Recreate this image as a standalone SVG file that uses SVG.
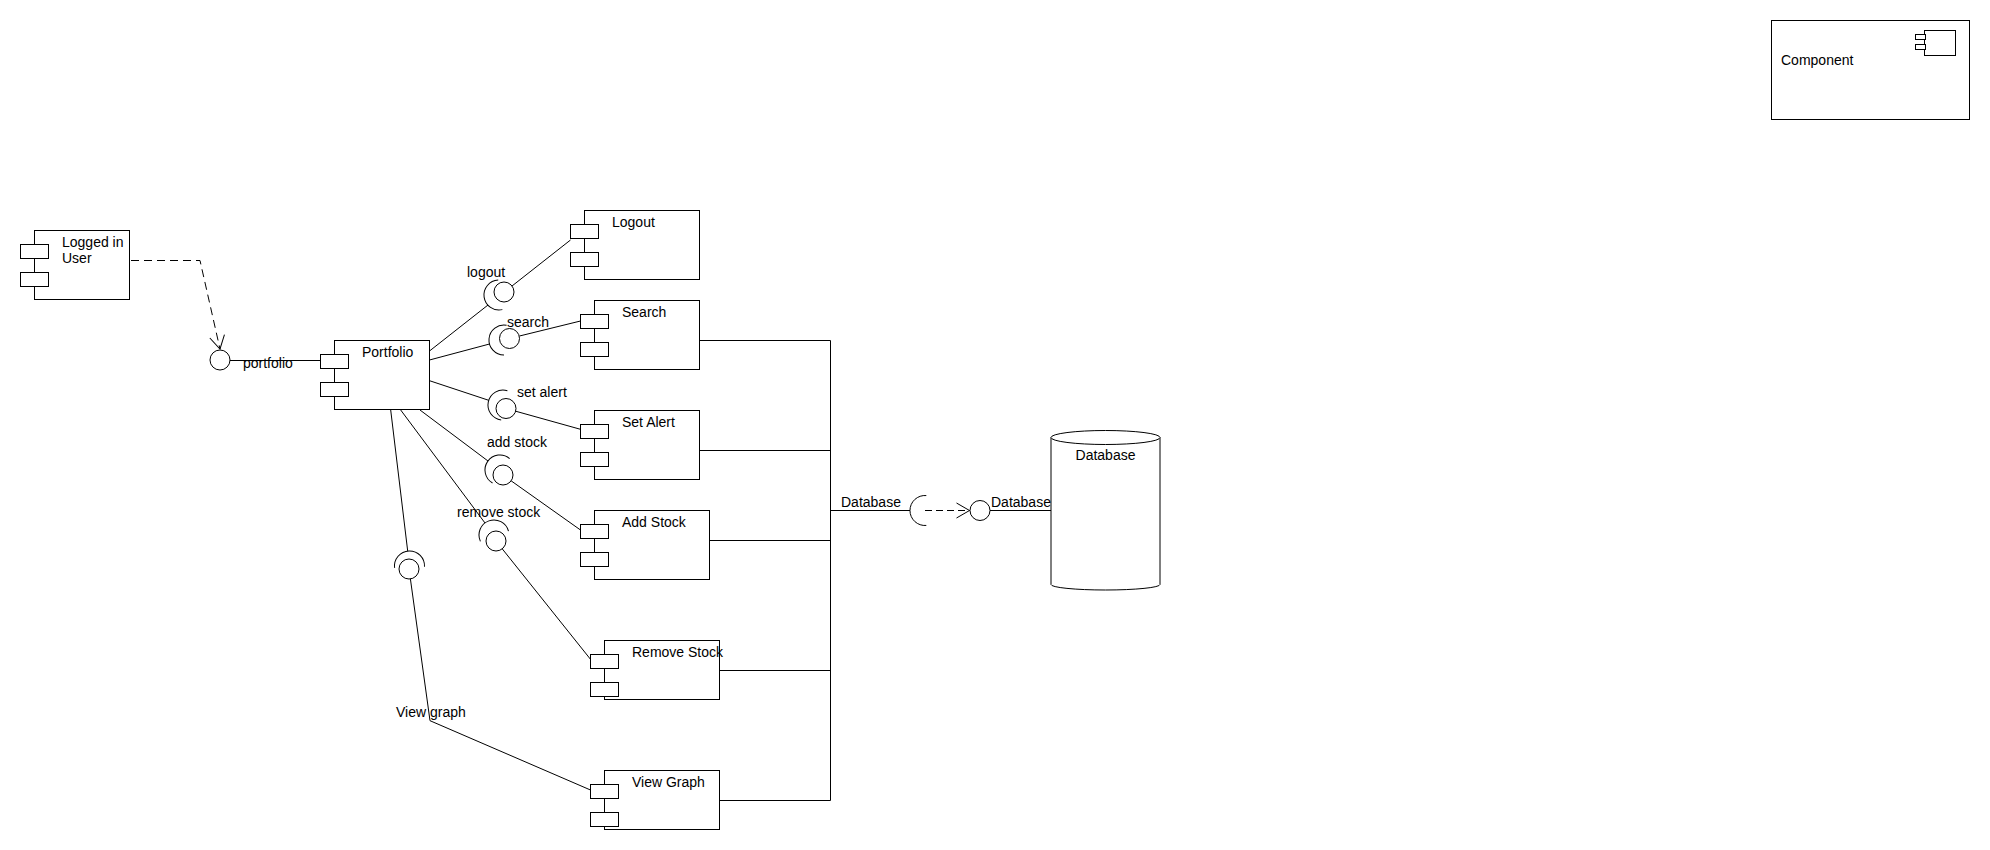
<svg xmlns="http://www.w3.org/2000/svg" xmlns:xlink="http://www.w3.org/1999/xlink" width="1990" height="850" viewBox="0 0 1990 850">
  <style>
    .box { fill: #ffffff; stroke: #000000; stroke-width: 1; }
    .port { fill: #ffffff; stroke: #000000; stroke-width: 1; }
    .wire { fill: none; stroke: #000000; stroke-width: 1; }
    .dash { fill: none; stroke: #000000; stroke-width: 1; stroke-dasharray: 8 5; }
    .ball { fill: #ffffff; stroke: #000000; stroke-width: 1; }
    .sock { fill: none; stroke: #000000; stroke-width: 1; }
    text { font-family: "Liberation Sans", Arial, sans-serif; font-size: 14px; fill: #000000; }
    .mid { text-anchor: middle; }
  </style>
  <defs>
    <marker id="open" markerUnits="userSpaceOnUse" markerWidth="16" markerHeight="18" refX="14" refY="8" orient="auto" overflow="visible">
      <path d="M1,0.5 L14,8 L1,15.5" fill="none" stroke="#000000" stroke-width="1" stroke-dasharray="none"/>
    </marker>
    <!-- required-interface socket, opening toward +x, centred on origin -->
    <path id="socket" class="sock" d="M1.31,-14.94 A15,15 0 1 0 1.31,14.94"/>
  </defs>
  <rect width="1990" height="850" fill="#ffffff"/>

  <!-- connectors -->
  <g id="connectors">
    <!-- user to portfolio interface -->
    <path class="dash" d="M131,260.5 L200,260.5 L220,349" marker-end="url(#open)"/>
    <line class="wire" x1="230" y1="360.5" x2="320.5" y2="360.5"/>

    <!-- portfolio to sockets -->
    <line class="wire" x1="429.5" y1="351" x2="488" y2="305"/>
    <line class="wire" x1="429.5" y1="360" x2="489.5" y2="344"/>
    <line class="wire" x1="429.5" y1="380.7" x2="488.7" y2="400.3"/>
    <line class="wire" x1="420" y1="410" x2="488" y2="461"/>
    <line class="wire" x1="400.7" y1="410" x2="485" y2="523"/>
    <line class="wire" x1="390.7" y1="410" x2="407.7" y2="551.1"/>

    <!-- provided interfaces to components -->
    <line class="wire" x1="512" y1="286" x2="570.5" y2="240"/>
    <line class="wire" x1="519.5" y1="336" x2="580.5" y2="321"/>
    <line class="wire" x1="515.6" y1="411.2" x2="580.5" y2="429.3"/>
    <line class="wire" x1="511.1" y1="480.8" x2="580.5" y2="530"/>
    <line class="wire" x1="502.2" y1="548.8" x2="590.5" y2="659.3"/>
    <path class="wire" d="M410.4,578.9 L430,720.7 L590.5,790"/>

    <!-- database bus -->
    <line class="wire" x1="699.5" y1="340.5" x2="830.5" y2="340.5"/>
    <line class="wire" x1="699.5" y1="450.5" x2="830.5" y2="450.5"/>
    <line class="wire" x1="709.5" y1="540.5" x2="830.5" y2="540.5"/>
    <line class="wire" x1="719.5" y1="670.5" x2="830.5" y2="670.5"/>
    <line class="wire" x1="719.5" y1="800.5" x2="830.5" y2="800.5"/>
    <line class="wire" x1="830.5" y1="340.5" x2="830.5" y2="800.5"/>
    <line class="wire" x1="830.5" y1="510.5" x2="910" y2="510.5"/>
    <line class="dash" style="stroke-dasharray: 7 4" x1="925" y1="510.5" x2="969.5" y2="510.5" marker-end="url(#open)"/>
    <line class="wire" x1="990" y1="510.5" x2="1051" y2="510.5"/>
  </g>

  <!-- interfaces (ball and socket) -->
  <g id="interfaces">
    <g id="if-portfolio"><circle class="ball" cx="220" cy="360" r="10"/></g>
    <g id="if-logout">
      <use xlink:href="#socket" href="#socket" transform="translate(499,295) rotate(-8)"/>
      <circle class="ball" cx="504" cy="292" r="10"/>
    </g>
    <g id="if-search">
      <use xlink:href="#socket" href="#socket" transform="translate(504,340) rotate(5)"/>
      <circle class="ball" cx="509.5" cy="338.5" r="10"/>
    </g>
    <g id="if-setalert">
      <use xlink:href="#socket" href="#socket" transform="translate(503,405) rotate(12)"/>
      <circle class="ball" cx="506" cy="408.5" r="10"/>
    </g>
    <g id="if-addstock">
      <use xlink:href="#socket" href="#socket" transform="translate(500,470) rotate(35)"/>
      <circle class="ball" cx="503" cy="475" r="10"/>
    </g>
    <g id="if-removestock">
      <use xlink:href="#socket" href="#socket" transform="translate(494,535) rotate(70)"/>
      <circle class="ball" cx="496" cy="541" r="10"/>
    </g>
    <g id="if-viewgraph">
      <use xlink:href="#socket" href="#socket" transform="translate(409.5,566) rotate(88)"/>
      <circle class="ball" cx="409" cy="569" r="10"/>
    </g>
    <g id="if-database">
      <use xlink:href="#socket" href="#socket" transform="translate(925,510.5)"/>
      <circle class="ball" cx="980" cy="510.5" r="10"/>
    </g>
  </g>

  <!-- labels on connectors -->
  <g id="connector-labels">
    <text x="243" y="368">portfolio</text>
    <text x="467" y="277">logout</text>
    <text x="507" y="327">search</text>
    <text x="517" y="397">set alert</text>
    <text x="487" y="447">add stock</text>
    <text x="457" y="517">remove stock</text>
    <text x="396" y="717">View graph</text>
    <text x="841" y="507">Database</text>
    <text x="991" y="507">Database</text>
  </g>

  <!-- components -->
  <g id="logged-in-user">
    <rect class="box" x="34.5" y="230.5" width="95" height="69"/>
    <rect class="port" x="20.5" y="244.5" width="28" height="14"/>
    <rect class="port" x="20.5" y="272.5" width="28" height="14"/>
    <text x="62" y="247">Logged in</text>
    <text x="62" y="263">User</text>
  </g>
  <g id="portfolio">
    <rect class="box" x="334.5" y="340.5" width="95" height="69"/>
    <rect class="port" x="320.5" y="354.5" width="28" height="14"/>
    <rect class="port" x="320.5" y="382.5" width="28" height="14"/>
    <text x="362" y="357">Portfolio</text>
  </g>
  <g id="logout">
    <rect class="box" x="584.5" y="210.5" width="115" height="69"/>
    <rect class="port" x="570.5" y="224.5" width="28" height="14"/>
    <rect class="port" x="570.5" y="252.5" width="28" height="14"/>
    <text x="612" y="227">Logout</text>
  </g>
  <g id="search">
    <rect class="box" x="594.5" y="300.5" width="105" height="69"/>
    <rect class="port" x="580.5" y="314.5" width="28" height="14"/>
    <rect class="port" x="580.5" y="342.5" width="28" height="14"/>
    <text x="622" y="317">Search</text>
  </g>
  <g id="set-alert">
    <rect class="box" x="594.5" y="410.5" width="105" height="69"/>
    <rect class="port" x="580.5" y="424.5" width="28" height="14"/>
    <rect class="port" x="580.5" y="452.5" width="28" height="14"/>
    <text x="622" y="427">Set Alert</text>
  </g>
  <g id="add-stock">
    <rect class="box" x="594.5" y="510.5" width="115" height="69"/>
    <rect class="port" x="580.5" y="524.5" width="28" height="14"/>
    <rect class="port" x="580.5" y="552.5" width="28" height="14"/>
    <text x="622" y="527">Add Stock</text>
  </g>
  <g id="remove-stock">
    <rect class="box" x="604.5" y="640.5" width="115" height="59"/>
    <rect class="port" x="590.5" y="654.5" width="28" height="14"/>
    <rect class="port" x="590.5" y="682.5" width="28" height="14"/>
    <text x="632" y="657">Remove Stock</text>
  </g>
  <g id="view-graph">
    <rect class="box" x="604.5" y="770.5" width="115" height="59"/>
    <rect class="port" x="590.5" y="784.5" width="28" height="14"/>
    <rect class="port" x="590.5" y="812.5" width="28" height="14"/>
    <text x="632" y="787">View Graph</text>
  </g>
  <g id="database">
    <path class="box" d="M1051,437.5 L1051,584.5 A54.5,5.5 0 0 0 1160,584.5 L1160,437.5"/>
    <ellipse class="box" cx="1105.5" cy="437.5" rx="54.5" ry="7"/>
    <text class="mid" x="1105.5" y="460">Database</text>
  </g>

  <!-- legend -->
  <g id="legend-component">
    <rect class="box" x="1771.5" y="20.5" width="198" height="99"/>
    <rect class="box" x="1924.5" y="30.5" width="31" height="25"/>
    <rect class="port" x="1915.5" y="34.5" width="10" height="5"/>
    <rect class="port" x="1915.5" y="44.5" width="10" height="5"/>
    <text x="1781" y="65">Component</text>
  </g>
</svg>
